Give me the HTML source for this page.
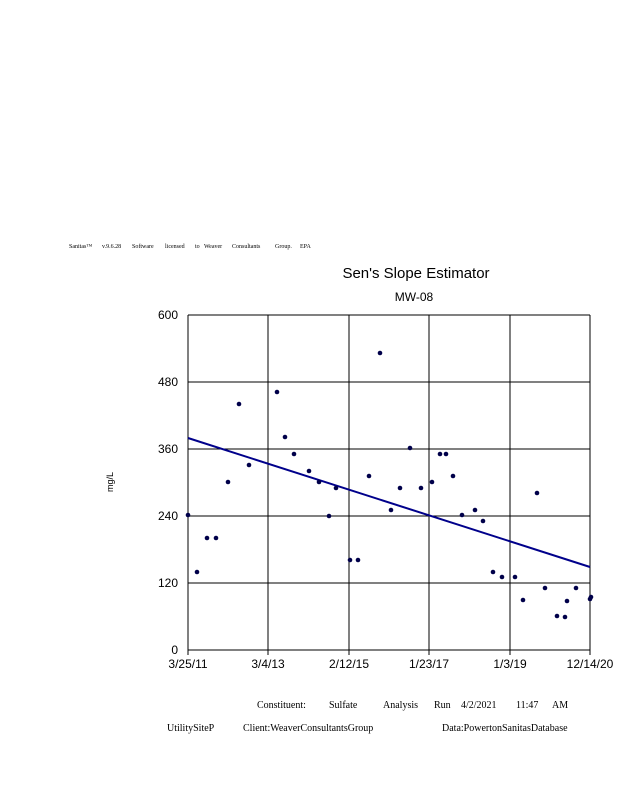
<!DOCTYPE html>
<html><head><meta charset="utf-8"><style>
body{margin:0;background:#fff;width:618px;height:800px;overflow:hidden;font-family:"Liberation Sans",sans-serif}
</style></head><body>
<svg width="618" height="800" xmlns="http://www.w3.org/2000/svg">
<g font-family="Liberation Serif" font-size="6" fill="#000">
<text x="69" y="248">Sanitas™</text><text x="102" y="248">v.9.6.28</text><text x="132" y="248">Software</text>
<text x="165" y="248">licensed</text><text x="195" y="248">to</text><text x="204" y="248">Weaver</text>
<text x="232" y="248">Consultants</text><text x="275" y="248">Group.</text><text x="300" y="248">EPA</text>
</g>
<text x="416" y="278" font-size="15" text-anchor="middle">Sen's Slope Estimator</text>
<text x="414" y="301" font-size="12" text-anchor="middle">MW-08</text>
<g stroke="#000" stroke-width="1">
<line x1="188" y1="315" x2="590" y2="315"/><line x1="188" y1="382" x2="590" y2="382"/>
<line x1="188" y1="449" x2="590" y2="449"/><line x1="188" y1="516" x2="590" y2="516"/>
<line x1="188" y1="583" x2="590" y2="583"/><line x1="188" y1="650" x2="590" y2="650"/>
<line x1="188" y1="315" x2="188" y2="655"/><line x1="268" y1="315" x2="268" y2="655"/>
<line x1="349" y1="315" x2="349" y2="655"/><line x1="429" y1="315" x2="429" y2="655"/>
<line x1="510" y1="315" x2="510" y2="655"/><line x1="590" y1="315" x2="590" y2="655"/>
</g>
<g font-size="12" text-anchor="end">
<text x="178" y="319">600</text><text x="178" y="386">480</text><text x="178" y="453">360</text>
<text x="178" y="520">240</text><text x="178" y="587">120</text><text x="178" y="654">0</text>
</g>
<g font-size="12" text-anchor="middle">
<text x="188" y="668">3/25/11</text><text x="268" y="668">3/4/13</text><text x="349" y="668">2/12/15</text>
<text x="429" y="668">1/23/17</text><text x="510" y="668">1/3/19</text><text x="590" y="668">12/14/20</text>
</g>
<text x="113" y="482" font-size="9" transform="rotate(-90 113 482)" text-anchor="middle">mg/L</text>
<line x1="188" y1="438" x2="590" y2="567" stroke="#00008b" stroke-width="2"/>
<g fill="#00004a">
<circle cx="188" cy="515" r="2.3"/><circle cx="197" cy="572" r="2.3"/><circle cx="207" cy="538" r="2.3"/>
<circle cx="216" cy="538" r="2.3"/><circle cx="228" cy="482" r="2.3"/><circle cx="239" cy="404" r="2.3"/>
<circle cx="249" cy="465" r="2.3"/><circle cx="277" cy="392" r="2.3"/><circle cx="285" cy="437" r="2.3"/>
<circle cx="294" cy="454" r="2.3"/><circle cx="309" cy="471" r="2.3"/><circle cx="319" cy="482" r="2.3"/>
<circle cx="329" cy="516" r="2.3"/><circle cx="336" cy="488" r="2.3"/><circle cx="350" cy="560" r="2.3"/>
<circle cx="358" cy="560" r="2.3"/><circle cx="369" cy="476" r="2.3"/><circle cx="380" cy="353" r="2.3"/>
<circle cx="391" cy="510" r="2.3"/><circle cx="400" cy="488" r="2.3"/><circle cx="410" cy="448" r="2.3"/>
<circle cx="421" cy="488" r="2.3"/><circle cx="432" cy="482" r="2.3"/><circle cx="440" cy="454" r="2.3"/>
<circle cx="446" cy="454" r="2.3"/><circle cx="453" cy="476" r="2.3"/><circle cx="462" cy="515" r="2.3"/>
<circle cx="475" cy="510" r="2.3"/><circle cx="483" cy="521" r="2.3"/><circle cx="493" cy="572" r="2.3"/>
<circle cx="502" cy="577" r="2.3"/><circle cx="515" cy="577" r="2.3"/><circle cx="523" cy="600" r="2.3"/>
<circle cx="537" cy="493" r="2.3"/><circle cx="545" cy="588" r="2.3"/><circle cx="557" cy="616" r="2.3"/>
<circle cx="565" cy="617" r="2.3"/><circle cx="567" cy="601" r="2.3"/><circle cx="576" cy="588" r="2.3"/>
<circle cx="590" cy="599" r="2.3"/><circle cx="591" cy="597" r="2.3"/>
</g>
<g font-family="Liberation Serif" font-size="10">
<text x="257" y="708">Constituent:</text><text x="329" y="708">Sulfate</text><text x="383" y="708">Analysis</text>
<text x="434" y="708">Run</text><text x="461" y="708">4/2/2021</text><text x="516" y="708">11:47</text><text x="552" y="708">AM</text>
<text x="167" y="731">UtilitySiteP</text><text x="243" y="731">Client:WeaverConsultantsGroup</text>
<text x="442" y="731">Data:PowertonSanitasDatabase</text>
</g>
</svg>
</body></html>
